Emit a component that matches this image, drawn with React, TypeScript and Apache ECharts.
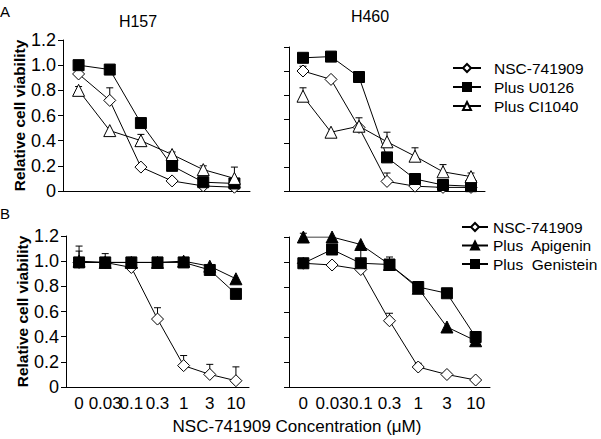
import React, { useEffect, useRef } from "react";
import * as echarts from "echarts";

const doses = ["0", "0.03", "0.1", "0.3", "1", "3", "10"];
const topLeftDoses = ["0", "0.03", "0.1", "0.3", "1", "3"];

// Panel A, H157 (6 points)
const h157Nsc = [0.93, 0.72, 0.19, 0.08, 0.04, 0.03];
const h157NscErr = [null, 0.82, null, null, null, null];
const h157U0126 = [1.0, 0.965, 0.54, 0.2, 0.07, 0.06];
const h157U0126Err = [null, null, null, null, null, null];
const h157CI1040 = [0.8, 0.48, 0.4, 0.29, 0.17, 0.1];
const h157CI1040Err = [0.83, null, 0.45, 0.31, 0.2, 0.19];

// Panel A, H460 (7 points)
const h460Nsc = [1.0, 0.93, 0.53, 0.08, 0.04, 0.03, 0.03];
const h460NscErr = [1.04, null, null, 0.15, null, null, null];
const h460U0126 = [1.11, 1.12, 0.95, 0.28, 0.1, 0.05, 0.04];
const h460U0126Err = [null, null, null, null, null, null, null];
const h460CI1040 = [0.79, 0.49, 0.54, 0.41, 0.29, 0.16, 0.12];
const h460CI1040Err = [0.86, null, 0.61, 0.49, 0.36, 0.22, 0.15];

// Panel B, H157
const bH157Nsc = [0.99, 0.99, 0.95, 0.54, 0.17, 0.1, 0.05];
const bH157NscErr = [1.12, 1.06, 1.03, 0.63, 0.25, 0.18, 0.16];
const bH157Api = [1.0, 0.99, 0.99, 0.99, 1.0, 0.96, 0.86];
const bH157ApiErr = [1.08, null, null, null, null, null, null];
const bH157Gen = [0.99, 0.99, 0.99, 0.99, 0.99, 0.93, 0.74];
const bH157GenErr = [null, null, null, null, null, null, null];

// Panel B, H460
const bH460Nsc = [0.99, 0.976, 0.94, 0.53, 0.16, 0.1, 0.056];
const bH460NscErr = [null, null, null, 0.59, 0.19, null, null];
const bH460Api = [1.2, 1.2, 1.14, 0.98, 0.79, 0.48, 0.37];
const bH460ApiErr = [1.23, null, null, null, null, null, null];
const bH460Gen = [0.99, 1.1, 0.99, 0.98, 0.8, 0.75, 0.4];
const bH460GenErr = [null, null, 1.1, 1.04, null, null, null];

const yTicks = { min: 0, max: 1.2, interval: 0.2 };

const FONT = "'Liberation Sans', Arial, sans-serif";

export default function App() {
  const ref = useRef<HTMLDivElement>(null);
  useEffect(() => {
    if (!ref.current) return;
    const chart = echarts.init(ref.current, undefined, { renderer: "svg" });

    const grids = [
      { left: 63, top: 40, width: 187, height: 151 },
      { left: 289, top: 47, width: 196, height: 144 },
      { left: 66, top: 236, width: 183, height: 151 },
      { left: 289, top: 237, width: 201, height: 150 },
    ];

    const axisLine = { lineStyle: { color: "#000", width: 1 } };
    const axisTick = { lineStyle: { color: "#000", width: 1 }, length: 5 };

    const xAxes = [topLeftDoses, doses, doses, doses].map((cats, i) => ({
      type: "category",
      gridIndex: i,
      data: cats,
      boundaryGap: true,
      axisLine,
      axisTick: { ...axisTick, alignWithLabel: false },
      axisLabel: {
        show: i >= 2,
        color: "#000",
        fontSize: 17,
        fontFamily: FONT,
        margin: 8,
        interval: 0,
      },
      splitLine: { show: false },
    }));

    const yAxes = [0, 1, 2, 3].map((i) => ({
      type: "value",
      gridIndex: i,
      ...yTicks,
      axisLine: { show: true, ...axisLine },
      axisTick: { show: true, ...axisTick },
      splitLine: { show: false },
      axisLabel: {
        show: i === 0 || i === 2,
        color: "#000",
        fontSize: 18,
        fontFamily: FONT,
        margin: 7,
        formatter: (v: number) => (v === 0 ? "0" : v.toFixed(1)),
      },
      name: i === 0 || i === 2 ? "Relative cell viability" : "",
      nameLocation: "middle",
      nameGap: i === 0 ? 28 : 34,
      nameTextStyle: {
        color: "#000",
        fontSize: 15.5,
        fontWeight: "bold",
        fontFamily: FONT,
      },
    }));

    const lineSeries = (
      name: string,
      data: number[],
      symbol: string,
      fill: string,
      idx: number,
      size: number
    ) => ({
      type: "line",
      name,
      data,
      xAxisIndex: idx,
      yAxisIndex: idx,
      symbol,
      symbolSize: size,
      showAllSymbol: true,
      z: 3,
      lineStyle: { color: "#000", width: 1 },
      itemStyle: { color: fill, borderColor: "#000", borderWidth: 1 },
      emphasis: { disabled: true },
    });

    const errSeries = (values: number[], errs: (number | null)[], idx: number) => ({
      type: "custom",
      xAxisIndex: idx,
      yAxisIndex: idx,
      z: 2,
      silent: true,
      data: values
        .map((v, i) => (errs[i] == null ? null : [i, v, errs[i]]))
        .filter((d) => d !== null),
      renderItem: (params: any, api: any) => {
        const x = api.value(0);
        const p0 = api.coord([x, api.value(1)]);
        const p1 = api.coord([x, api.value(2)]);
        return {
          type: "group",
          children: [
            {
              type: "line",
              shape: { x1: p0[0], y1: p0[1], x2: p1[0], y2: p1[1] },
              style: { stroke: "#000", lineWidth: 1 },
            },
            {
              type: "line",
              shape: { x1: p1[0] - 3.5, y1: p1[1], x2: p1[0] + 3.5, y2: p1[1] },
              style: { stroke: "#000", lineWidth: 1 },
            },
          ],
        };
      },
    });

    const series: any[] = [
      errSeries(h157Nsc, h157NscErr, 0),
      errSeries(h157U0126, h157U0126Err, 0),
      errSeries(h157CI1040, h157CI1040Err, 0),
      errSeries(h460Nsc, h460NscErr, 1),
      errSeries(h460U0126, h460U0126Err, 1),
      errSeries(h460CI1040, h460CI1040Err, 1),
      errSeries(bH157Nsc, bH157NscErr, 2),
      errSeries(bH157Api, bH157ApiErr, 2),
      errSeries(bH157Gen, bH157GenErr, 2),
      errSeries(bH460Nsc, bH460NscErr, 3),
      errSeries(bH460Api, bH460ApiErr, 3),
      errSeries(bH460Gen, bH460GenErr, 3),

      lineSeries("NSC-741909", h157Nsc, "diamond", "#fff", 0, 12),
      lineSeries("Plus U0126", h157U0126, "rect", "#000", 0, 11),
      lineSeries("Plus CI1040", h157CI1040, "triangle", "#fff", 0, 12),
      lineSeries("NSC-741909", h460Nsc, "diamond", "#fff", 1, 12),
      lineSeries("Plus U0126", h460U0126, "rect", "#000", 1, 11),
      lineSeries("Plus CI1040", h460CI1040, "triangle", "#fff", 1, 12),

      lineSeries("NSC-741909", bH157Nsc, "diamond", "#fff", 2, 12),
      lineSeries("Plus  Apigenin", bH157Api, "triangle", "#000", 2, 12),
      lineSeries("Plus  Genistein", bH157Gen, "rect", "#000", 2, 11),
      lineSeries("NSC-741909", bH460Nsc, "diamond", "#fff", 3, 12),
      lineSeries("Plus  Apigenin", bH460Api, "triangle", "#000", 3, 12),
      lineSeries("Plus  Genistein", bH460Gen, "rect", "#000", 3, 11),
    ];

    const legendText = { color: "#000", fontSize: 15.5, fontFamily: FONT, lineHeight: 16 };

    chart.setOption({
      animation: false,
      backgroundColor: "#fff",
      grid: grids,
      xAxis: xAxes,
      yAxis: yAxes,
      legend: [
        {
          orient: "vertical",
          left: 447,
          top: 55,
          itemWidth: 28,
          itemHeight: 10,
          itemGap: 3,
          selectedMode: false,
          textStyle: { ...legendText, padding: [0, 0, 0, 8] },
          data: ["NSC-741909", "Plus U0126", "Plus CI1040"],
        },
        {
          orient: "vertical",
          left: 456,
          top: 214,
          itemWidth: 26,
          itemHeight: 10,
          itemGap: 2.5,
          selectedMode: false,
          textStyle: legendText,
          data: ["NSC-741909", "Plus  Apigenin", "Plus  Genistein"],
        },
      ],
      graphic: [
        {
          type: "text",
          x: 0,
          y: 11,
          style: { text: "A", fontSize: 15, fontFamily: FONT, fill: "#000", verticalAlign: "middle" },
        },
        {
          type: "text",
          x: 0,
          y: 213,
          style: { text: "B", fontSize: 15, fontFamily: FONT, fill: "#000", verticalAlign: "middle" },
        },
        {
          type: "text",
          x: 138,
          y: 21,
          style: { text: "H157", fontSize: 16, fontFamily: FONT, fill: "#000", align: "center", verticalAlign: "middle" },
        },
        {
          type: "text",
          x: 370,
          y: 16,
          style: { text: "H460", fontSize: 16, fontFamily: FONT, fill: "#000", align: "center", verticalAlign: "middle" },
        },
        {
          type: "text",
          x: 297,
          y: 426,
          style: {
            text: "NSC-741909 Concentration (μM)",
            fontSize: 17,
            fontFamily: FONT,
            fill: "#000",
            align: "center",
            verticalAlign: "middle",
          },
        },
      ],
      series,
    });

    return () => chart.dispose();
  }, []);

  return (
    <div
      ref={ref}
      style={{ position: "fixed", left: 0, top: 0, width: 601, height: 439 }}
    />
  );
}
